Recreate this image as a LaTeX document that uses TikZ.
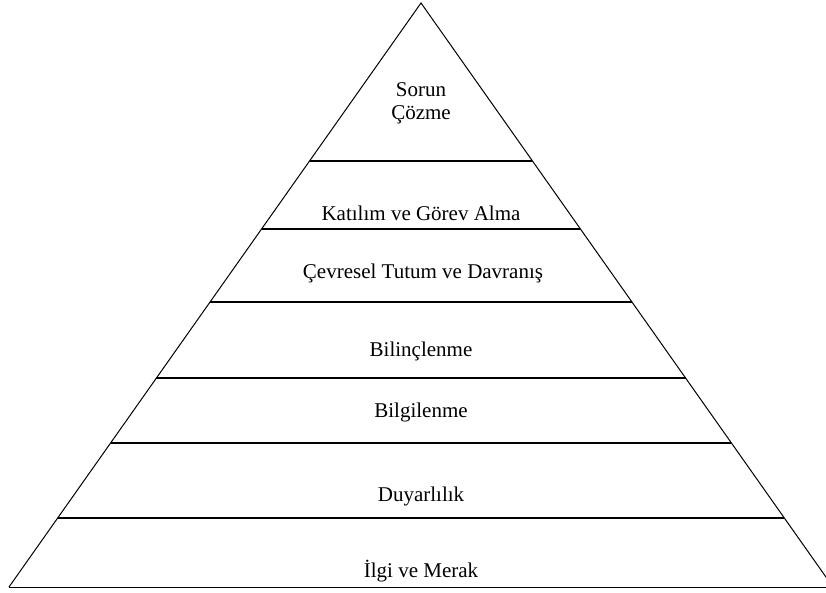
\documentclass[tikz,border=0pt]{standalone}
\usepackage{fontspec}
\setmainfont{Liberation Serif}
\usetikzlibrary{calc}
\begin{document}
\begin{tikzpicture}[x=1pt,y=-1pt,
  side/.style={line width=1pt,line join=miter},
  tier/.style={line width=1.8pt},
  lbl/.style={anchor=base,font=\fontsize{21}{24}\selectfont,inner sep=0pt}]
\useasboundingbox (0,0) rectangle (826,593);
\coordinate (apex) at (421,3);
\coordinate (bl) at (9,587);
\coordinate (br) at (833,587);
\draw[side] (bl) -- (apex) -- (br);
\draw[side] (bl) -- (br);
% tier lines
\foreach \y/\n in {161/a,229/b,302/c,378/d,443/e,518/f}{
  \pgfmathsetmacro{\dx}{0.7055*(\y-3)}
  \coordinate (L\n) at ({421-\dx},\y);
  \coordinate (R\n) at ({421+\dx},\y);
  \draw[tier] (L\n) -- (R\n);
}
\node[lbl] (t1) at (421,97) {Sorun};
\node[lbl] (t2) at (421,120) {Çözme};
\node[lbl] (t3) at (421,221) {Katılım ve Görev Alma};
\node[lbl] (t4) at (423,279) {Çevresel Tutum ve Davranış};
\node[lbl] (t5) at (421,356) {Bilinçlenme};
\node[lbl] (t6) at (421,417) {Bilgilenme};
\node[lbl] (t7) at (421,501) {Duyarlılık};
\node[lbl] (t8) at (421,577) {İlgi ve Merak};
\end{tikzpicture}
\end{document}
